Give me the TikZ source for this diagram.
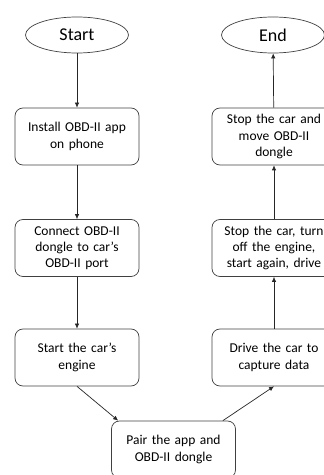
\documentclass[tikz,border=0pt]{standalone}
\usepackage{fontspec}
\setmainfont{Carlito}
\usetikzlibrary{shapes.geometric,arrows.meta}

\begin{document}
\begin{tikzpicture}[
        x=1pt, y=1pt,
        terminal/.style={ellipse, draw=black!75, line width=0.7pt, minimum width=103pt, minimum height=36pt, inner sep=0pt, font=\fontsize{18}{21}\selectfont},
        process/.style={rectangle, draw=black!75, line width=0.7pt, rounded corners=8pt, minimum width=124pt, minimum height=57pt, text width=116pt, align=center, inner sep=0pt, font=\fontsize{13.5}{16.2}\selectfont},
        flow/.style={-{Latex[length=5pt,width=4.5pt]}, line width=0.7pt, black!85}
    ]
        \useasboundingbox (0,0) rectangle (324,475);

        % Terminals
        \node[terminal] (start) at (77,440) {Start};
        \node[terminal] (finish) at (273,440) {End};

        % Left column
        \node[process] (install) at (77,338.5) {Install OBD-II app\\on phone};
        \node[process] (connect) at (77,227) {Connect OBD-II\\dongle to car's\\OBD-II port};
        \node[process] (engine) at (77,117.5) {Start the car's\\engine};

        % Bottom
        \node[process] (pair) at (173.5,25.5) {Pair the app and\\OBD-II dongle};

        % Right column
        \node[process] (drive) at (274,117.5) {Drive the car to\\capture data};
        \node[process] (restart) at (274,227) {Stop the car, turn\\off the engine,\\start again, drive};
        \node[process] (stopmove) at (274,338.5) {Stop the car and\\move OBD-II\\dongle};

        % Connections
        \draw[flow] (start) -- (install);
        \draw[flow] (install) -- (connect);
        \draw[flow] (connect) -- (engine);
        \draw[flow] (engine.south) -- ([xshift=7pt]pair.north west);
        \draw[flow] ([xshift=-13pt]pair.north east) -- (drive.south);
        \draw[flow] (drive) -- (restart);
        \draw[flow] (restart) -- (stopmove);
        \draw[flow] (stopmove) -- (finish);

    \end{tikzpicture}
\end{document}
